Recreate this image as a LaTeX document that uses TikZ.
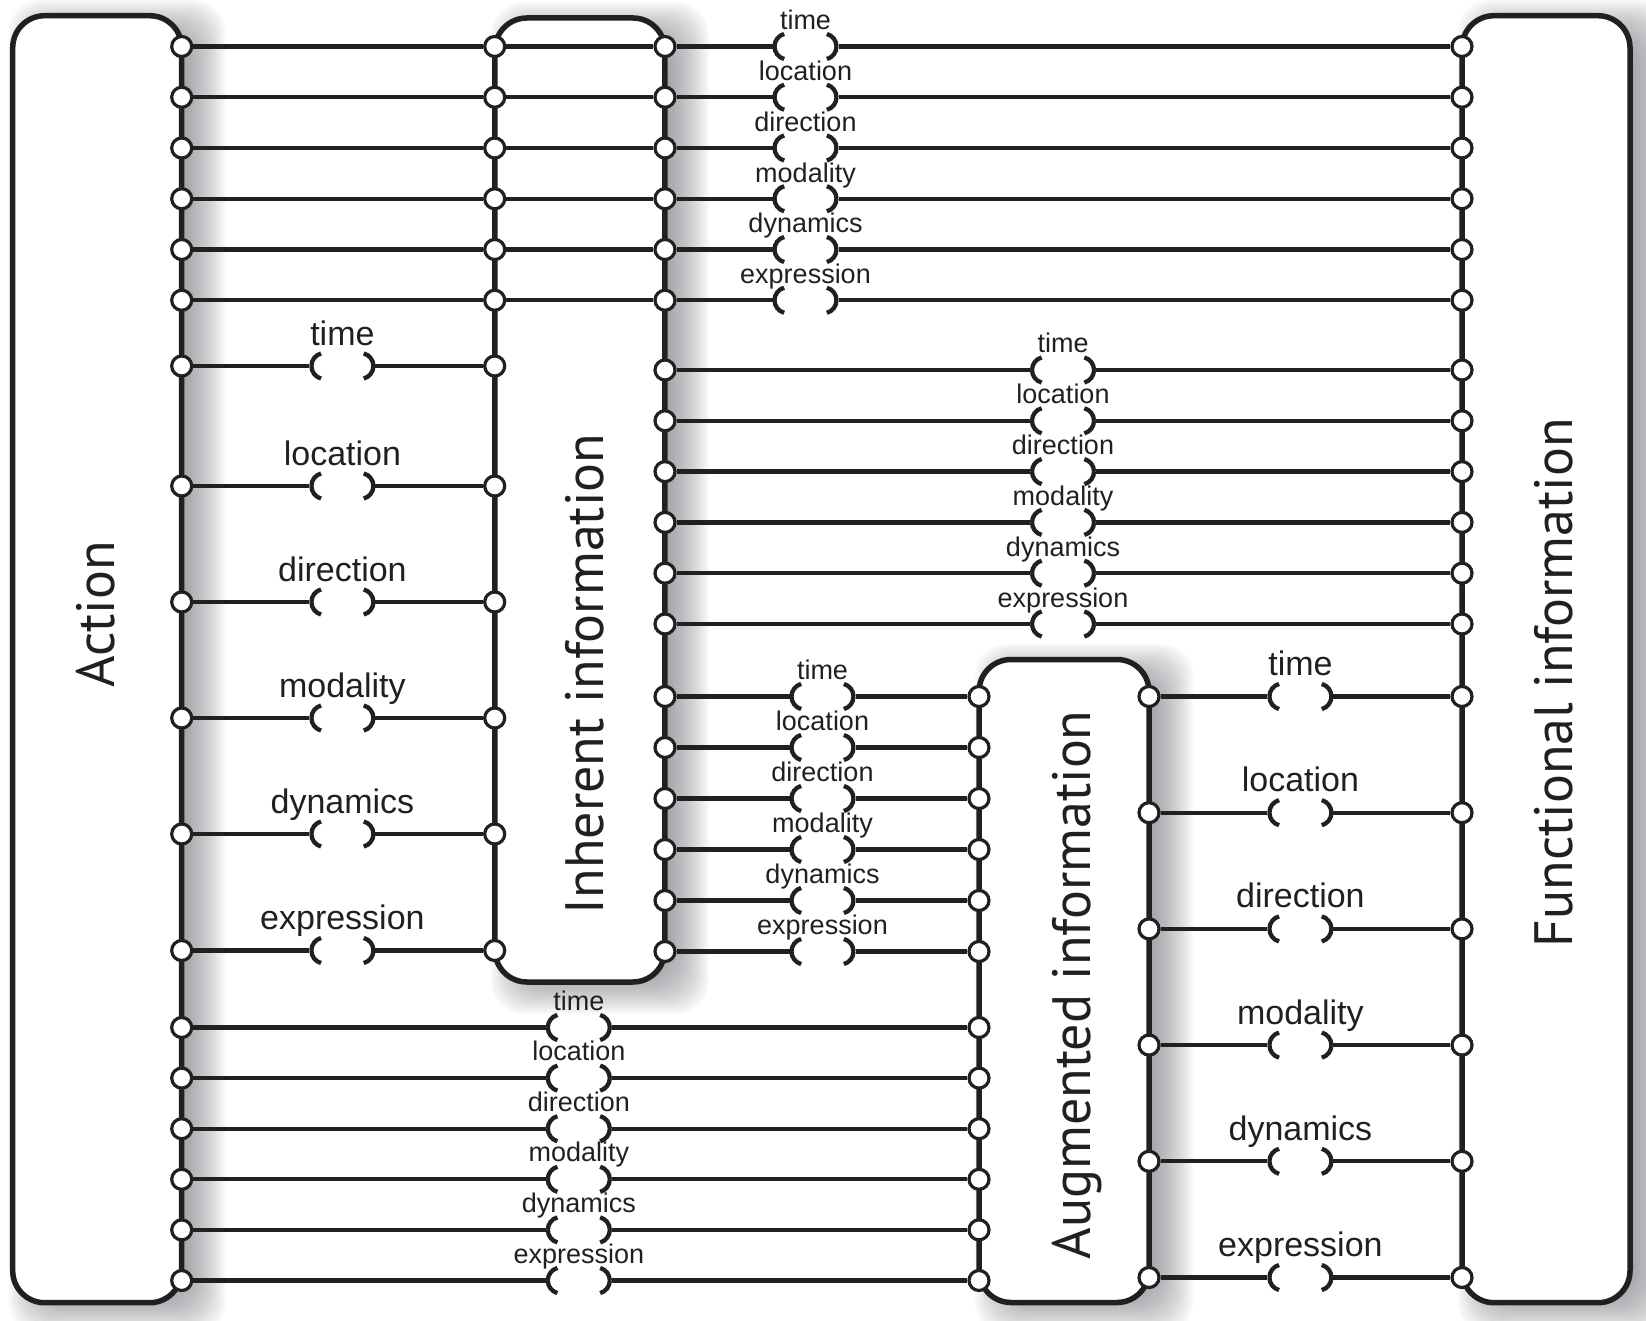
\documentclass[tikz,border=0pt]{standalone}
\usepackage{fontspec}
\setmainfont{Liberation Sans}
\newfontfamily\titlefont{PT Sans}
\definecolor{ink}{HTML}{231F20}
\definecolor{shadowgrey}{HTML}{55575F}
\pgfdeclarelayer{background}
\pgfsetlayers{background,main}

\tikzset{
  box/.style={draw=ink, line width=5.5pt, rounded corners=32pt, fill=white, inner sep=0pt, outer sep=0pt},
  boxtitle/.style={rotate=90, anchor=base, text=ink, inner sep=0pt, font=\titlefont\fontsize{54}{60}\selectfont},
  port/.style={circle, draw=ink, line width=3.2pt, fill=white, minimum size=20pt, inner sep=0pt},
  wire/.style={draw=ink, line width=4.3pt},
  bridge/.style={minimum width=66pt, minimum height=32pt, inner sep=0pt, outer sep=0pt,
    path picture={
      \draw[wire] ([xshift=2pt]path picture bounding box.west) arc[start angle=180, end angle=105, radius=13pt]
                  ([xshift=2pt]path picture bounding box.west) arc[start angle=180, end angle=255, radius=13pt]
                  ([xshift=-2pt]path picture bounding box.east) arc[start angle=0, end angle=75, radius=13pt]
                  ([xshift=-2pt]path picture bounding box.east) arc[start angle=0, end angle=-75, radius=13pt];}},
  smalltag/.style={anchor=base, text=ink, inner sep=0pt, font=\fontsize{27}{30}\selectfont},
  bigtag/.style={anchor=base, text=ink, inner sep=0pt, font=\fontsize{34}{38}\selectfont},
}

\begin{document}
\begin{tikzpicture}[x=1pt, y=-1pt]
\useasboundingbox (0,0) rectangle (1646,1321);

% the four blocks
\node[box, minimum width=169pt, minimum height=1287pt] (action) at (97.2,659.2) {};
\node[box, minimum width=170pt, minimum height=964pt] (inherent) at (579.9,500) {};
\node[box, minimum width=170pt, minimum height=643pt] (augmented) at (1064,981) {};
\node[box, minimum width=168pt, minimum height=1287pt] (functional) at (1546,659.2) {};

\node[boxtitle] (actiontitle) at (114.5,614.5) {Action};
\node[boxtitle] (inherenttitle) at (603,674) {Inherent information};
\node[boxtitle] (augmentedtitle) at (1090,985) {Augmented information};
\node[boxtitle] (functionaltitle) at (1572.5,683) {Functional information};

% soft shadows behind the blocks
\begin{pgfonlayer}{background}
  \foreach \b in {action,inherent,augmented,functional}
    \foreach \e in {-24,-22,...,24}
      \fill[shadowgrey, opacity=0.035, rounded corners=32pt]
        ([shift={(20-\e,8+\e)}]\b.south west) rectangle ([shift={(20+\e,8-\e)}]\b.north east);
\end{pgfonlayer}

% action -> inherent -> functional
\foreach \word [count=\i] in {time,location,direction,modality,dynamics,expression}{
  \pgfmathsetmacro\y{46.5+50.75*(\i-1)}
  \node[port] (pa\i) at (181.7,\y) {};
  \node[port] (pi\i) at (494.7,\y) {};
  \node[port] (po\i) at (665,\y) {};
  \node[bridge] (bt\i) at (805.5,\y) {};
  \node[port] (pf\i) at (1462,\y) {};
  \node[smalltag] at ([yshift=0.5pt]bt\i.north) {\word};
  \draw[wire] (pa\i) -- (pi\i) (pi\i) -- (po\i) (po\i) -- (bt\i) (bt\i) -- (pf\i);
}

% action -> inherent
\foreach \y/\word [count=\i] in {366/time,486/location,602/direction,718/modality,834/dynamics,950.5/expression}{
  \node[port] (qa\i) at (181.7,\y) {};
  \node[bridge] (bq\i) at (342.4,\y) {};
  \node[port] (qi\i) at (494.7,\y) {};
  \node[bigtag] at ([yshift=5pt]bq\i.north) {\word};
  \draw[wire] (qa\i) -- (bq\i) (bq\i) -- (qi\i);
}

% inherent -> functional
\foreach \word [count=\i] in {time,location,direction,modality,dynamics,expression}{
  \pgfmathsetmacro\y{370+50.8*(\i-1)}
  \node[port] (ri\i) at (665,\y) {};
  \node[bridge] (br\i) at (1063,\y) {};
  \node[port] (rf\i) at (1462,\y) {};
  \node[smalltag] at ([yshift=1pt]br\i.north) {\word};
  \draw[wire] (ri\i) -- (br\i) (br\i) -- (rf\i);
}

% inherent -> augmented
\foreach \word [count=\i] in {time,location,direction,modality,dynamics,expression}{
  \pgfmathsetmacro\y{696.5+51*(\i-1)}
  \node[port] (si\i) at (665,\y) {};
  \node[bridge] (bs\i) at (822.5,\y) {};
  \node[port] (sg\i) at (979,\y) {};
  \node[smalltag] at ([yshift=1pt]bs\i.north) {\word};
  \draw[wire] (si\i) -- (bs\i) (bs\i) -- (sg\i);
}

% augmented -> functional
\foreach \word [count=\i] in {time,location,direction,modality,dynamics,expression}{
  \pgfmathsetmacro\y{696.5+116.2*(\i-1)}
  \node[port] (ug\i) at (1149,\y) {};
  \node[bridge] (bu\i) at (1300.4,\y) {};
  \node[port] (uf\i) at (1462,\y) {};
  \node[bigtag] at ([yshift=5pt]bu\i.north) {\word};
  \draw[wire] (ug\i) -- (bu\i) (bu\i) -- (uf\i);
}

% action -> augmented
\foreach \word [count=\i] in {time,location,direction,modality,dynamics,expression}{
  \pgfmathsetmacro\y{1027.5+50.6*(\i-1)}
  \node[port] (va\i) at (181.7,\y) {};
  \node[bridge] (bv\i) at (578.8,\y) {};
  \node[port] (vg\i) at (979,\y) {};
  \node[smalltag] at ([yshift=1.5pt]bv\i.north) {\word};
  \draw[wire] (va\i) -- (bv\i) (bv\i) -- (vg\i);
}
\end{tikzpicture}
\end{document}
